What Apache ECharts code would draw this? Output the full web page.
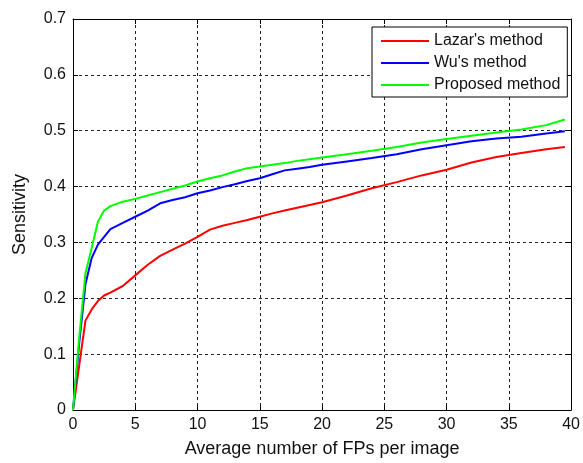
<!DOCTYPE html>
<html>
<head>
<meta charset="utf-8">
<script src="https://cdn.jsdelivr.net/npm/echarts@6/dist/echarts.min.js"></script>
<style>
  html, body { margin: 0; padding: 0; background: #fff; }
  #chart { width: 583px; height: 463px; }
</style>
</head>
<body>
<div id="chart"></div>
<script>
// FPs per image (x) sampled along the curves
var fps = [0, 0.5, 1, 1.5, 2, 2.5, 3, 4, 5, 6, 7, 8, 9, 10, 11, 12, 13, 14, 15, 16, 17, 18, 19, 20,
  22, 24, 26, 28, 30, 32, 34, 36, 38, 39.5];

// sensitivity values
var lazar = [0, 0.08, 0.16, 0.18, 0.195, 0.205, 0.21, 0.222, 0.241, 0.26, 0.276, 0.287, 0.298, 0.31,
  0.323, 0.33, 0.335, 0.34, 0.346, 0.352, 0.357, 0.362, 0.367, 0.372,
  0.384, 0.397, 0.408, 0.42, 0.43, 0.443, 0.453, 0.46, 0.467, 0.471];
var wu = [0, 0.12, 0.225, 0.272, 0.296, 0.31, 0.324, 0.335, 0.346, 0.357, 0.37, 0.376, 0.381, 0.388,
  0.393, 0.399, 0.404, 0.41, 0.415, 0.422, 0.429, 0.432, 0.435, 0.439,
  0.445, 0.451, 0.458, 0.467, 0.474, 0.481, 0.486, 0.489, 0.495, 0.499];
var proposed = [0, 0.13, 0.245, 0.29, 0.337, 0.357, 0.365, 0.373, 0.378, 0.384, 0.39, 0.396, 0.402, 0.409,
  0.415, 0.42, 0.427, 0.433, 0.436, 0.439, 0.442, 0.446, 0.449, 0.452,
  0.458, 0.464, 0.471, 0.479, 0.485, 0.491, 0.497, 0.502, 0.51, 0.52];

var seriesNames = ["Lazar's method", "Wu's method", "Proposed method"];
var seriesColors = ['#ff0000', '#0000ff', '#00ff00'];

function pairs(ys) {
  return fps.map(function (x, i) { return [x, ys[i]]; });
}

var chart = echarts.init(document.getElementById('chart'));
var font = 'Liberation Sans, Arial, sans-serif';

var baseX = {
  type: 'value', min: 0, max: 40, interval: 5,
  axisLine: { onZero: false, lineStyle: { color: '#000', width: 1 } },
  axisTick: { inside: true, length: 5, lineStyle: { color: '#000' } }
};
var baseY = {
  type: 'value', min: 0, max: 0.7, interval: 0.1,
  axisLine: { onZero: false, lineStyle: { color: '#000', width: 1 } },
  axisTick: { inside: true, length: 5, lineStyle: { color: '#000' } }
};

var option = {
  animation: false,
  backgroundColor: '#fff',
  grid: { left: 73, right: 10, top: 19, bottom: 52 },
  legend: {
    orient: 'vertical',
    left: 372, top: 27,
    padding: [6, 7, 4, 9],
    itemGap: 6,
    itemWidth: 48,
    itemHeight: 2,
    icon: 'rect',
    borderColor: '#000',
    borderWidth: 1,
    backgroundColor: '#fff',
    textStyle: { fontFamily: font, fontSize: 16, color: '#111' },
    data: seriesNames
  },
  xAxis: [
    Object.assign({}, baseX, {
      position: 'bottom',
      name: 'Average number of FPs per image',
      nameLocation: 'middle',
      nameGap: 30,
      nameTextStyle: { fontFamily: font, fontSize: 18, color: '#111' },
      axisLabel: { margin: 7, fontFamily: font, fontSize: 16, color: '#111' },
      splitLine: { show: true, lineStyle: { color: '#222', type: [3, 3], width: 1 } }
    }),
    Object.assign({}, baseX, {
      position: 'top',
      axisLabel: { show: false },
      splitLine: { show: false }
    })
  ],
  yAxis: [
    Object.assign({}, baseY, {
      position: 'left',
      name: 'Sensitivity',
      nameLocation: 'middle',
      nameGap: 44,
      nameTextStyle: { fontFamily: font, fontSize: 18, color: '#111' },
      axisLabel: { margin: 7, fontFamily: font, fontSize: 16, color: '#111' },
      splitLine: { show: true, lineStyle: { color: '#222', type: [3, 3], width: 1 } }
    }),
    Object.assign({}, baseY, {
      position: 'right',
      axisLabel: { show: false },
      splitLine: { show: false }
    })
  ],
  series: [lazar, wu, proposed].map(function (ys, i) {
    return {
      name: seriesNames[i],
      type: 'line',
      xAxisIndex: 0,
      yAxisIndex: 0,
      data: pairs(ys),
      showSymbol: false,
      symbol: 'none',
      color: seriesColors[i],
      lineStyle: { color: seriesColors[i], width: 2 }
    };
  })
};

chart.setOption(option);
window.addEventListener('resize', function () { chart.resize(); });
</script>
</body>
</html>
